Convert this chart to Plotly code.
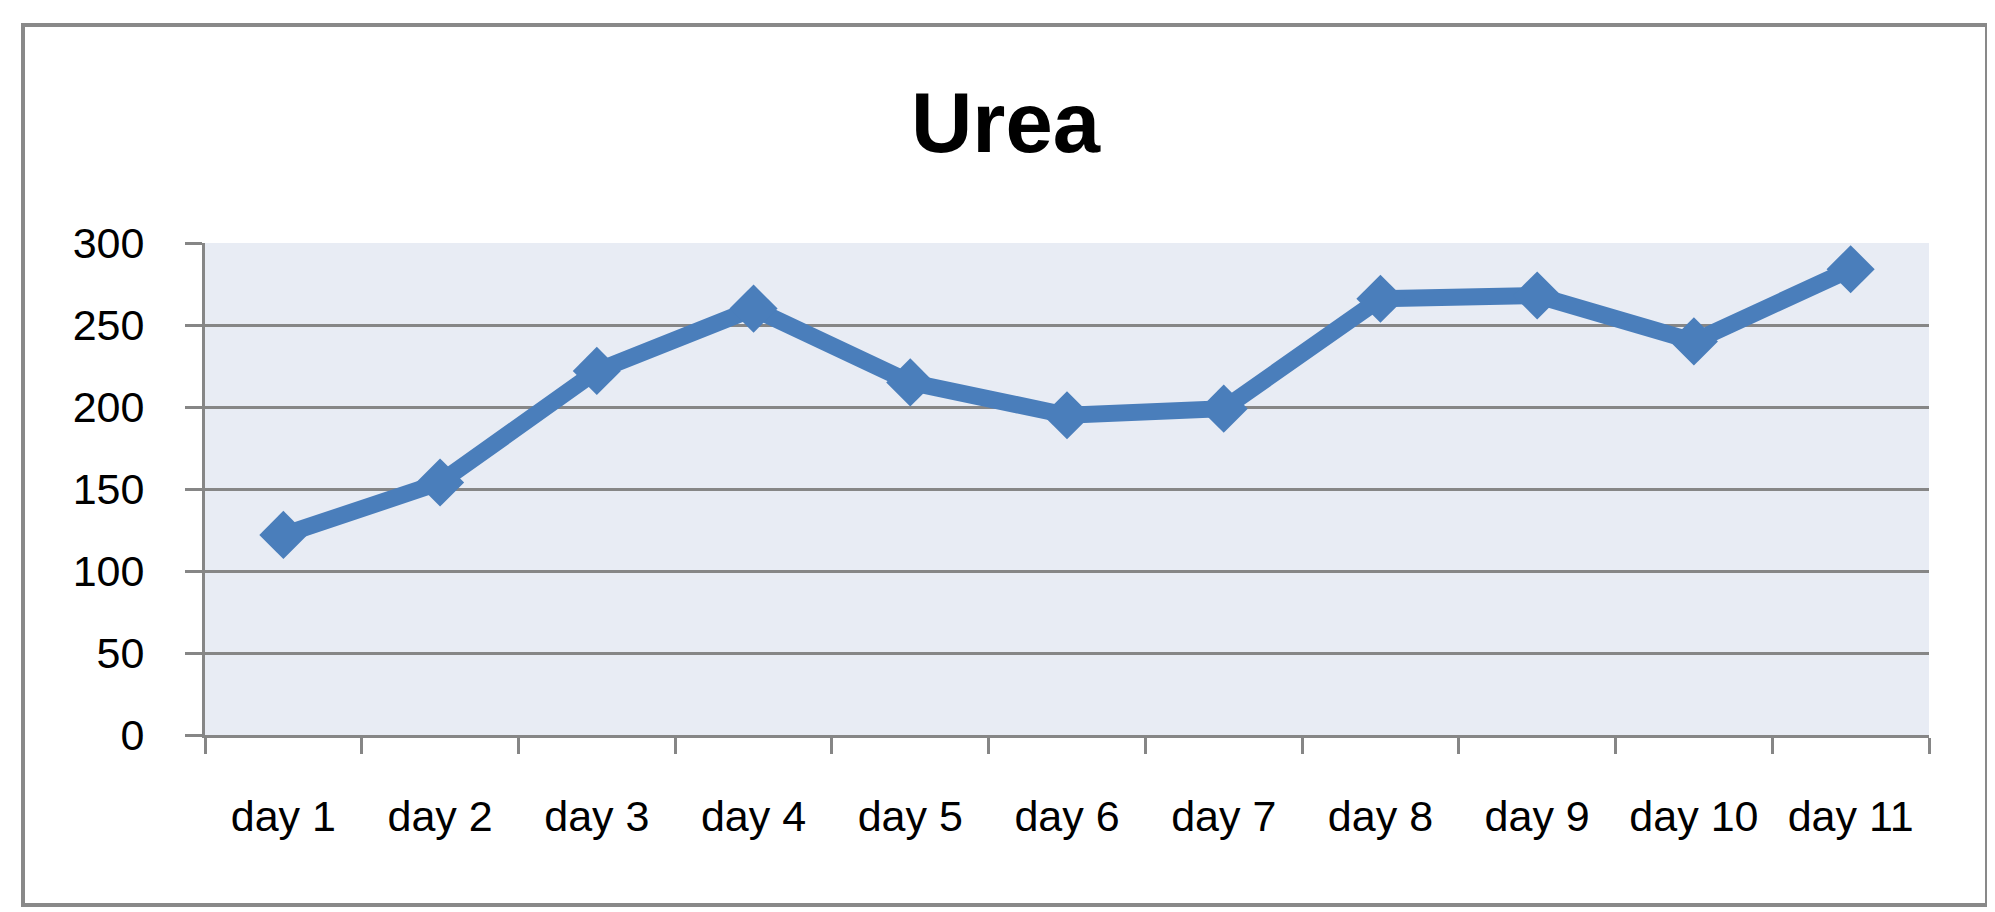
import plotly.graph_objects as go

days = ["day 1", "day 2", "day 3", "day 4", "day 5", "day 6",
        "day 7", "day 8", "day 9", "day 10", "day 11"]
urea = [122, 154, 222, 260, 215, 195, 199, 266, 268, 240, 284]
y_ticks = [0, 50, 100, 150, 200, 250, 300]

W, H = 1995, 912
L, R, T, B = 197, 1921, 235, 727

fig = go.Figure()
fig.add_trace(go.Scatter(
    x=days, y=urea, mode="lines+markers",
    line=dict(color="#4a7ebb", width=17),
    marker=dict(symbol="diamond", size=37, color="#4a7ebb", line=dict(width=0)),
    showlegend=False, hoverinfo="x+y",
))

grid = "#868686"
fig.update_layout(
    width=W, height=H,
    margin=dict(l=L, r=W - R, t=T, b=H - B, pad=0),
    paper_bgcolor="white",
    plot_bgcolor="#e8ecf4",
    title=dict(text="<b>Urea</b>", x=0.5, xanchor="center",
               xref="container", yref="container",
               y=1 - 114 / H, yanchor="middle",
               font=dict(family="Liberation Sans, Arial, sans-serif", size=85, color="black")),
    font=dict(family="Liberation Sans, Arial, sans-serif", color="black"),
    xaxis=dict(
        type="category", range=[-0.5, len(days) - 0.5],
        showgrid=False, showline=True, linecolor=grid, linewidth=3,
        ticks="outside", ticklen=16, tickwidth=3, tickcolor=grid,
        tickson="boundaries", tickfont=dict(size=43),
        ticklabelstandoff=41, zeroline=False,
    ),
    yaxis=dict(
        range=[0, 300], tickvals=y_ticks,
        showgrid=True, gridcolor=grid, gridwidth=3,
        showline=True, linecolor=grid, linewidth=3,
        ticks="outside", ticklen=17, tickwidth=3, tickcolor=grid,
        tickfont=dict(size=43), ticklabelstandoff=32, zeroline=False,
    ),
)

# outer chart border
x0 = (15 - L) / (R - L)
x1 = (1979 - L) / (R - L)
y0 = (B - 897) / (B - T)
y1 = (B - 17) / (B - T)
fig.add_shape(type="rect", xref="paper", yref="paper",
              x0=x0, x1=x1, y0=y0, y1=y1,
              line=dict(color="#898989", width=4), fillcolor="rgba(0,0,0,0)",
              layer="above")

fig.write_html("out.html")
